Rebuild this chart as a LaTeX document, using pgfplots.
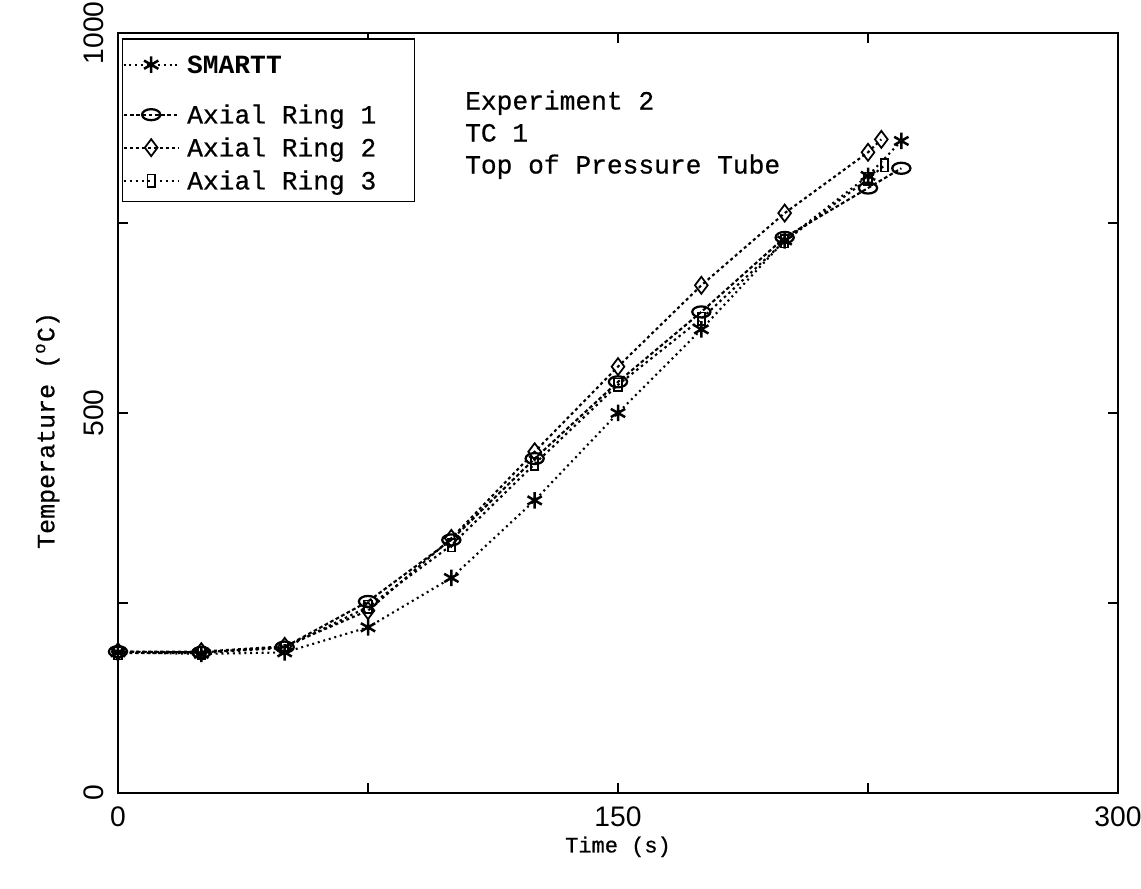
\documentclass[border=0pt]{standalone}
\usepackage{fontspec}
\setmainfont{Liberation Mono}[UprightFeatures={FakeBold=0.6}]
\setsansfont{Liberation Sans}
\usepackage{pgfplots}
\pgfplotsset{compat=1.18}

% heating history, experiment 2, thermocouple 1
\pgfplotstableread{
t    T
0    185
25   183
50   185
75   218
100  283
125  385
150  500
175  610
200  727
225  812
235  858
}\smartt
\pgfplotstableread{
t    T
0    186
25   185
50   192
75   252
100  333
125  440
150  541
175  633
200  731
225  796
235  822
}\ringone
\pgfplotstableread{
t    T
0    186
25   186
50   193
75   240
100  335
125  449
150  561
175  668
200  763
225  843
229  860
}\ringtwo
\pgfplotstableread{
t    T
0    184
25   184
50   191
75   245
100  326
125  433
150  537
175  624
200  726
225  808
230  826
}\ringthree

% legend entry of fixed width
\newcommand\entry[1]{\makebox[88pt][l]{#1}}

\begin{document}
\begin{tikzpicture}
\begin{axis}[
  scale only axis, width=400pt, height=304pt,
  xmin=0, xmax=300, ymin=0, ymax=1000,
  xtick={0,150,300}, ytick={0,500,1000},
  minor xtick={75,225}, minor ytick={250,750},
  tick align=inside, major tick length=4pt, minor tick length=4pt,
  tick style={black, line width=0.5pt},
  axis line style={line width=0.6pt},
  ticklabel style={font=\sffamily\fontsize{11.3}{13}\selectfont},
  /pgf/number format/assume math mode=true,
  /pgf/number format/1000 sep={},
  yticklabel style={rotate=90, anchor=south},
  yticklabel shift=2pt,
  xticklabel shift=2pt,
  xlabel style={font=\fontsize{8.8}{10}\selectfont, yshift=3pt},
  ylabel style={font=\fontsize{10}{12}\selectfont, yshift=3pt, xshift=-7pt},
  xlabel={Time (s)},
  ylabel={Temperature (\textsuperscript{o}C)},
  legend style={at={(0.004,0.993)}, anchor=north west, draw=black,
    line width=0.5pt, inner xsep=0pt, inner ysep=2pt, row sep=2.2pt,
    font=\fontsize{10.5}{12}\selectfont,
    nodes={anchor=base west, inner ysep=0.3pt, inner xsep=3pt,
      text height=7.8pt, text depth=2.6pt}},
  legend cell align=left,
  legend image code/.code={%
    \draw[mark repeat=2, mark phase=2, #1]
      plot coordinates {(0pt,3.5pt) (11pt,3.5pt) (22pt,3.5pt)};},
  every axis plot/.append style={black, line width=0.85pt},
]
\addplot[dash pattern=on 0.8pt off 1.5pt, mark=asterisk, mark size=3.3pt,
  mark options={solid, line width=1pt}] table[x=t, y=T] {\smartt};
\addlegendentry[text height=11.5pt, text depth=9.4pt]{\entry{\textbf{SMARTT}}}
\addplot[dash pattern=on 1.5pt off 1pt, mark=o, mark size=2.6pt,
  mark options={solid, xscale=1.4, yscale=0.85, line width=0.9pt}] table[x=t, y=T] {\ringone};
\addlegendentry{\entry{Axial Ring 1}}
\addplot[dash pattern=on 1.2pt off 1.2pt, mark=diamond, mark size=3.4pt,
  mark options={solid, line width=0.7pt}] table[x=t, y=T] {\ringtwo};
\addlegendentry{\entry{Axial Ring 2}}
\addplot[dash pattern=on 1pt off 1.4pt, mark=square, mark size=2.1pt,
  mark options={solid, xscale=0.7, yscale=1.2, line width=0.7pt}] table[x=t, y=T] {\ringthree};
\addlegendentry{\entry{Axial Ring 3}}
\node[anchor=north west, align=left, inner sep=0pt,
  font=\fontsize{10.5}{12.8}\selectfont] at (axis cs:104,925)
  {Experiment 2\\TC 1\\Top of Pressure Tube};
\coordinate (sw) at (rel axis cs:0,0);
\coordinate (ne) at (rel axis cs:1,1);
\end{axis}
\pgfresetboundingbox
\path (sw) ++(-47.2pt,-38pt) coordinate (bl);
\path (ne) ++(9.2pt,13.2pt) coordinate (tr);
\path[use as bounding box] (bl) rectangle (tr);
\end{tikzpicture}
\end{document}
